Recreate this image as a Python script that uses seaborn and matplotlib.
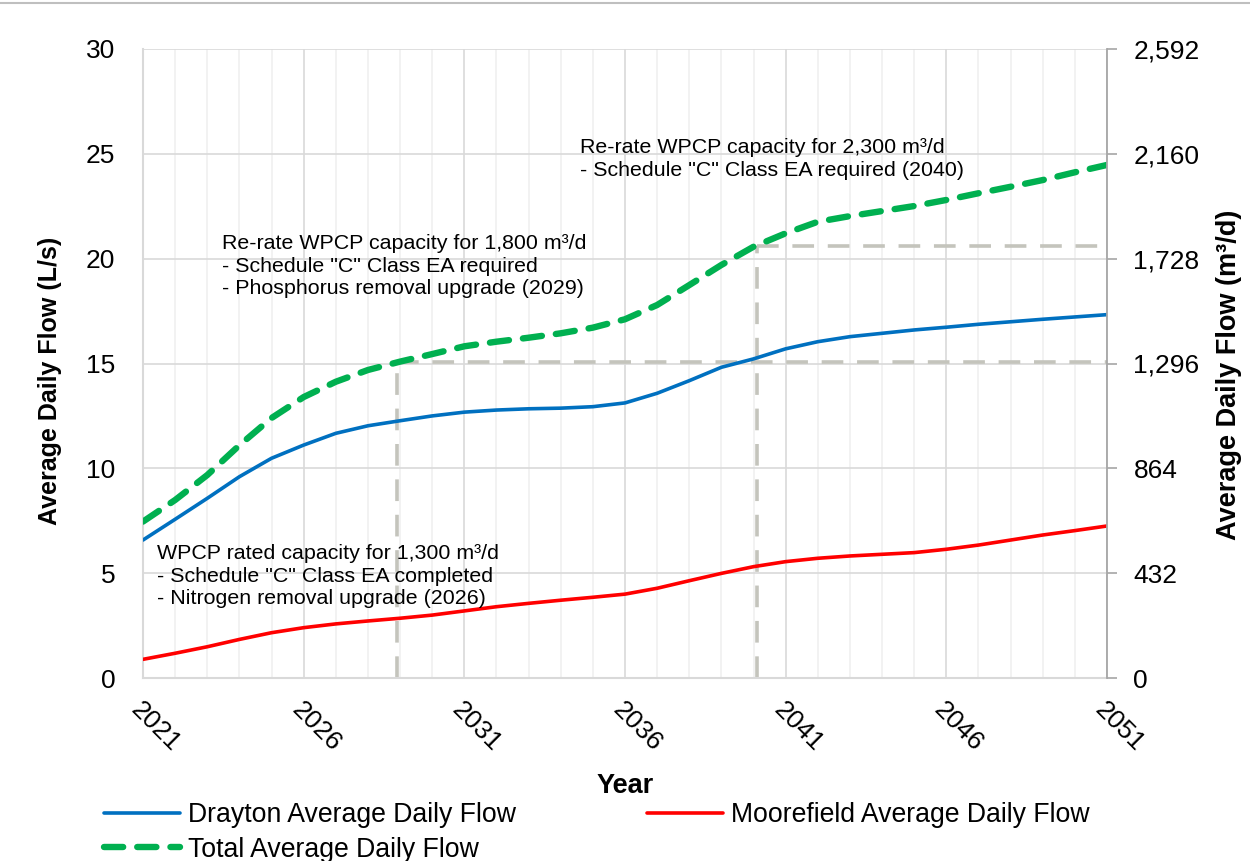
import matplotlib
matplotlib.use("Agg")
import matplotlib.pyplot as plt
from matplotlib.lines import Line2D
from matplotlib.ticker import MultipleLocator, FuncFormatter
import seaborn as sns
import pandas as pd
import numpy as np

# ---------------- data ----------------
years = list(range(2021, 2052))
drayton = [6.58, 7.57, 8.57, 9.60, 10.48, 11.11, 11.67, 12.03, 12.27, 12.50,
           12.68, 12.78, 12.84, 12.87, 12.94, 13.12, 13.58, 14.18, 14.82, 15.22,
           15.70, 16.04, 16.28, 16.44, 16.60, 16.73, 16.87, 16.99, 17.11, 17.22,
           17.33]
moorefield = [0.89, 1.18, 1.49, 1.84, 2.16, 2.40, 2.58, 2.72, 2.85, 3.00,
              3.20, 3.40, 3.56, 3.71, 3.85, 4.00, 4.28, 4.64, 4.99, 5.31,
              5.55, 5.71, 5.82, 5.90, 5.98, 6.14, 6.34, 6.58, 6.82, 7.03,
              7.25]
total = [7.46, 8.49, 9.68, 11.10, 12.40, 13.40, 14.13, 14.69, 15.09, 15.45,
         15.82, 16.04, 16.23, 16.44, 16.71, 17.11, 17.79, 18.74, 19.70, 20.57,
         21.21, 21.76, 22.03, 22.27, 22.51, 22.80, 23.12, 23.43, 23.75, 24.12,
         24.47]
series_names = ["Drayton Average Daily Flow", "Moorefield Average Daily Flow",
                "Total Average Daily Flow"]

# capacity reference lines (year, flow L/s)
ref_years = [2028.9, 2040.1]
ref_flows = [15.05, 20.6]

left_ticks = [0, 5, 10, 15, 20, 25, 30]
right_ticks = [0, 432, 864, 1296, 1728, 2160, 2592]
x_major = [2021, 2026, 2031, 2036, 2041, 2046, 2051]

notes = [
    "WPCP rated capacity for 1,300 m³/d\n- Schedule \"C\" Class EA completed\n- Nitrogen removal upgrade (2026)",
    "Re-rate WPCP capacity for 1,800 m³/d\n- Schedule \"C\" Class EA required\n- Phosphorus removal upgrade (2029)",
    "Re-rate WPCP capacity for 2,300 m³/d\n- Schedule \"C\" Class EA required (2040)",
]

df = pd.DataFrame({"Year": years, series_names[0]: drayton,
                   series_names[1]: moorefield, series_names[2]: total})

# ---------------- style ----------------
sns.set_theme(style="white")
plt.rcParams["font.family"] = ["Liberation Sans", "DejaVu Sans"]
plt.rcParams["text.color"] = "black"

fig = plt.figure(figsize=(12.5, 8.61), dpi=100)
ax = fig.add_axes([143 / 1250, 1 - 678 / 861, (1107 - 143) / 1250, (678 - 49) / 861])

colors = {series_names[0]: "#0070C0", series_names[1]: "#FF0000", series_names[2]: "#00B050"}

# reference dashed lines
ref_kw = dict(color="#C4C4BC", lw=2.6, dashes=(6.0, 3.8), zorder=2, solid_capstyle="butt")
for yr, fl in zip(ref_years, ref_flows):
    ax.plot([yr, yr], [0, fl], **ref_kw)
    ax.plot([yr, years[-1]], [fl, fl], **ref_kw)

sns.lineplot(data=df, x="Year", y=series_names[0], ax=ax, color=colors[series_names[0]],
             lw=2.6, zorder=4, label=series_names[0], legend=False)
sns.lineplot(data=df, x="Year", y=series_names[1], ax=ax, color=colors[series_names[1]],
             lw=2.6, zorder=4, label=series_names[1], legend=False)
sns.lineplot(data=df, x="Year", y=series_names[2], ax=ax, color=colors[series_names[2]],
             lw=4.6, zorder=5, label=series_names[2], legend=False)
lines = ax.get_lines()
green = lines[-1]
green.set_dashes((3.0, 2.2))
green.set_dash_capstyle("round")

ax.set_xlim(years[0], years[-1])
ax.set_ylim(left_ticks[0], left_ticks[-1])
ax.set_yticks(left_ticks)
ax.set_xticks(x_major)
ax.xaxis.set_minor_locator(MultipleLocator(1))
ax.grid(True, which="major", color="#D9D9D9", lw=1.2)
ax.grid(True, which="minor", axis="x", color="#F0F0F0", lw=1.2)
ax.set_axisbelow(True)

for s in ["top", "right"]:
    ax.spines[s].set_visible(False)
for s in ["left", "bottom"]:
    ax.spines[s].set_color("#D9D9D9")
    ax.spines[s].set_linewidth(1.5)

ax.tick_params(axis="y", length=0, pad=20, labelsize=19, labelcolor="black")
ax.tick_params(axis="x", which="both", length=0, pad=14, labelsize=19, labelcolor="black")
for lab in ax.get_xticklabels():
    lab.set_rotation(-45)
    lab.set_rotation_mode("anchor")
    lab.set_ha("left")
    lab.set_va("top")

ax.set_xlabel("Year", fontsize=19.5, fontweight="bold", color="black", labelpad=12)
ax.set_ylabel("Average Daily Flow (L/s)", fontsize=18, fontweight="bold", color="black")
ax.yaxis.set_label_coords((62 - 143) / 964, (678 - 381) / 629)

ax2 = ax.twinx()
ax2.set_ylim(right_ticks[0], right_ticks[-1])
ax2.set_yticks(right_ticks)
ax2.yaxis.set_major_formatter(FuncFormatter(lambda v, p: f"{int(round(v)):,}"))
ax2.grid(False)
for s in ["top", "left", "bottom"]:
    ax2.spines[s].set_visible(False)
ax2.spines["right"].set_color("#A6A6A6")
ax2.spines["right"].set_linewidth(1.3)
ax2.tick_params(axis="y", length=7, width=1.2, color="#A6A6A6", pad=12, labelsize=19, labelcolor="black")
ax2.set_ylabel("Average Daily Flow (m³/d)", fontsize=19.5, fontweight="bold", color="black")
ax2.yaxis.set_label_coords((1216 - 143) / 964, (678 - 375) / 629)

# annotations
note_pos = [(2021.45, 4.86), (2023.45, 19.65), (2034.6, 24.77)]
for (nx, ny), txt in zip(note_pos, notes):
    ax.text(nx, ny, txt, fontsize=15.4, color="black", ha="left", va="center",
            linespacing=1.25, zorder=6)

# legend
hd = {l.get_label(): l for l in lines[-3:]}
handles = [hd[series_names[0]], hd[series_names[2]], hd[series_names[1]]]
labels = [series_names[0], series_names[2], series_names[1]]
fig.legend(handles, labels, loc="upper left", bbox_to_anchor=(104 / 1250, 1 - 802 / 861),
           ncol=2, frameon=False, fontsize=19.2, handlelength=2.85, handletextpad=0.3,
           columnspacing=4.9, labelspacing=0.32, borderpad=0, borderaxespad=0,
           labelcolor="black")

fig.add_artist(Line2D([0, 1], [1 - 3 / 861] * 2, transform=fig.transFigure,
                      color="#BFBFBF", lw=1.5))

fig.savefig("out.png", dpi=100)
